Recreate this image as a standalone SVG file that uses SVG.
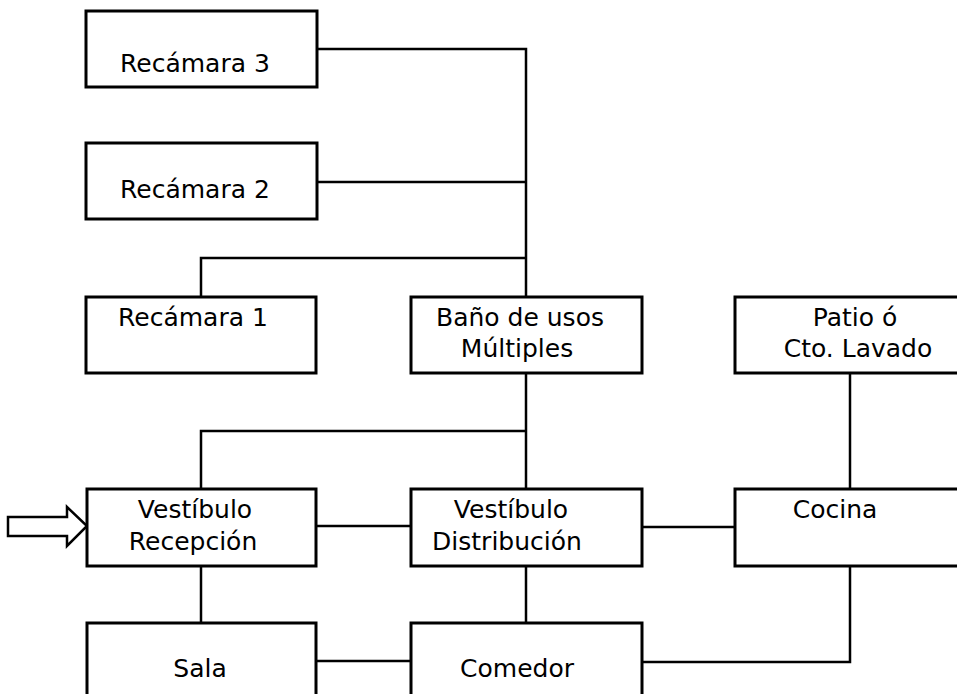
<svg xmlns="http://www.w3.org/2000/svg" width="957" height="694" viewBox="0 0 957 694">
<style>
.box{fill:#fff;stroke:#000;stroke-width:3}
.c{fill:none;stroke:#000;stroke-width:2.5}
text{font-family:"DejaVu Sans","Liberation Sans",sans-serif;font-size:25px;fill:#000;text-anchor:middle}
</style>
<rect width="957" height="694" fill="#fff"/>
<g id="connectors">
<path class="c" d="M317 49 H526 V297"/>
<path class="c" d="M317 182 H526"/>
<path class="c" d="M201 297 V258 H526"/>
<path class="c" d="M526 373 V489"/>
<path class="c" d="M201 489 V431 H526"/>
<path class="c" d="M316 526 H411"/>
<path class="c" d="M642 527 H735"/>
<path class="c" d="M850 373 V489"/>
<path class="c" d="M201 566 V623"/>
<path class="c" d="M526 566 V623"/>
<path class="c" d="M316 661 H411"/>
<path class="c" d="M642 662 H850 V566"/>
<polygon class="c" points="8,517 67,517 67,507 87,526 67,546 67,536 8,536" fill="#fff"/>
</g>
<g id="recamara3"><rect class="box" x="86" y="11" width="231" height="76"/><text x="195" y="72">Recámara 3</text></g>
<g id="recamara2"><rect class="box" x="86" y="143" width="231" height="76"/><text x="195" y="198">Recámara 2</text></g>
<g id="recamara1"><rect class="box" x="86" y="297" width="230" height="76"/><text x="193" y="326">Recámara 1</text></g>
<g id="bano"><rect class="box" x="411" y="297" width="231" height="76"/><text x="520" y="326">Baño de usos</text><text x="517" y="357">Múltiples</text></g>
<g id="patio"><rect class="box" x="735" y="297" width="240" height="76"/><text x="855" y="326">Patio ó</text><text x="858" y="357">Cto. Lavado</text></g>
<g id="vestibulo-recepcion"><rect class="box" x="87" y="489" width="229" height="77"/><text x="195" y="518">Vestíbulo</text><text x="193" y="550">Recepción</text></g>
<g id="vestibulo-distribucion"><rect class="box" x="411" y="489" width="231" height="77"/><text x="511" y="518">Vestíbulo</text><text x="507" y="550">Distribución</text></g>
<g id="cocina"><rect class="box" x="735" y="489" width="240" height="77"/><text x="835" y="518">Cocina</text></g>
<g id="sala"><rect class="box" x="87" y="623" width="229" height="90"/><text x="200" y="677">Sala</text></g>
<g id="comedor"><rect class="box" x="411" y="623" width="231" height="90"/><text x="517" y="677">Comedor</text></g>
</svg>
